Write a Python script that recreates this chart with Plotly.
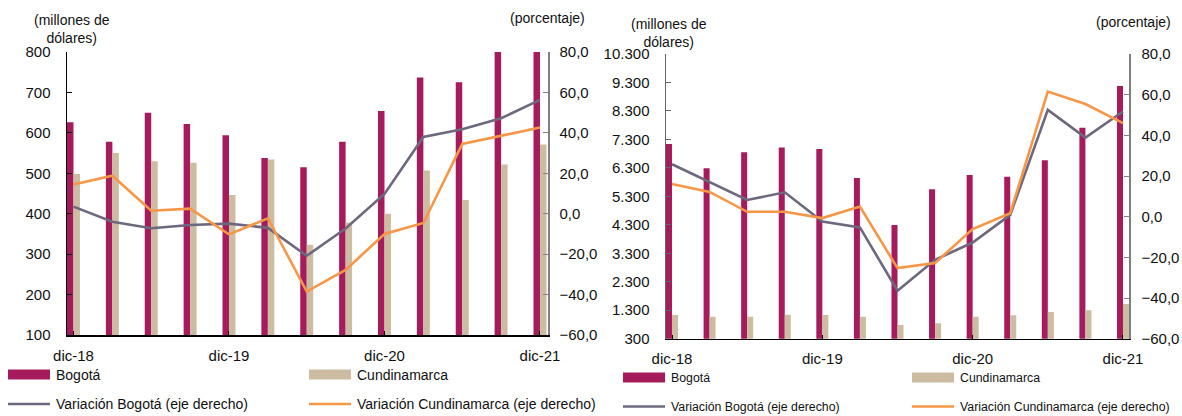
import plotly.graph_objects as go

# ---------------- data ----------------
periods = ["dic-18", "mar-19", "jun-19", "sep-19", "dic-19", "mar-20", "jun-20",
           "sep-20", "dic-20", "mar-21", "jun-21", "sep-21", "dic-21"]
tick_labels = ["dic-18", "dic-19", "dic-20", "dic-21"]

# left panel (millones de dólares / porcentaje)
left_bogota = [626, 578, 650, 622, 594, 538, 515, 578, 654, 737, 725, 851, 1022]
left_cund = [498, 550, 530, 526, 446, 534, 323, 378, 400, 507, 434, 522, 571]
left_var_bogota = [3.5, -4.0, -7.2, -5.6, -4.9, -7.0, -20.8, -7.3, 9.8, 38.0, 41.8, 47.2, 56.3]
left_var_cund = [14.5, 18.8, 1.5, 2.5, -10.2, -2.3, -38.5, -27.8, -10.0, -4.6, 34.5, 38.5, 42.6]

# right panel
right_bogota = [7135, 6290, 6850, 7020, 6960, 5945, 4295, 5550, 6050, 5990, 6565, 7710, 9175]
right_cund = [1130, 1070, 1070, 1140, 1130, 1070, 780, 840, 1070, 1120, 1240, 1300, 1520]
right_var_bogota = [25.8, 16.8, 8.2, 12.0, -2.4, -5.3, -36.4, -21.2, -12.7, 0.9, 52.5, 38.9, 51.7]
right_var_cund = [16.1, 12.2, 2.4, 2.4, -0.7, 5.0, -25.3, -22.8, -6.1, 1.7, 61.5, 55.4, 46.0]

names = ["Bogotá", "Cundinamarca",
         "Variación Bogotá (eje derecho)", "Variación Cundinamarca (eje derecho)"]

# ---------------- style ----------------
W, H = 1182, 416
C_BOG = "#A51B5C"
C_CUN = "#CCBDA2"
C_VB = "#6E687E"
C_VC = "#F79646"
FONT = "Liberation Sans, Arial, sans-serif"
TXT = "#111111"


def px_x(p):
    return p / W


def px_y(p):
    return 1 - p / H


fig = go.Figure()

panels = [
    dict(xa="x", ya="y", ya2="y2", bog=left_bogota, cun=left_cund,
         vb=left_var_bogota, vc=left_var_cund, bw=0.167),
    dict(xa="x2", ya="y3", ya2="y4", bog=right_bogota, cun=right_cund,
         vb=right_var_bogota, vc=right_var_cund, bw=0.16),
]

for p in panels:
    fig.add_trace(go.Bar(x=periods, y=p["bog"], name=names[0], marker_color=C_BOG,
                         marker_line_width=0, width=p["bw"], offset=-p["bw"],
                         xaxis=p["xa"], yaxis=p["ya"]))
    fig.add_trace(go.Bar(x=periods, y=p["cun"], name=names[1], marker_color=C_CUN,
                         marker_line_width=0, width=p["bw"], offset=0,
                         xaxis=p["xa"], yaxis=p["ya"]))
    fig.add_trace(go.Scatter(x=periods, y=p["vb"], name=names[2], mode="lines",
                             line=dict(color=C_VB, width=2.6),
                             xaxis=p["xa"], yaxis=p["ya2"]))
    fig.add_trace(go.Scatter(x=periods, y=p["vc"], name=names[3], mode="lines",
                             line=dict(color=C_VC, width=2.6),
                             xaxis=p["xa"], yaxis=p["ya2"]))

tickfont = dict(family=FONT, size=15, color=TXT)

xcommon = dict(type="category", categoryorder="array", categoryarray=periods,
               tickmode="array", tickvals=tick_labels, ticktext=tick_labels,
               showgrid=False, zeroline=False, showline=True, linecolor="#000000",
               linewidth=1.5, ticks="inside", ticklen=4, tickcolor="#000000",
               tickfont=tickfont, ticklabelstandoff=6, fixedrange=True, automargin=False)

ycommon = dict(showgrid=False, zeroline=False, showline=True, linewidth=1.5,
               ticks="inside", ticklen=5, tickfont=tickfont, ticklabelstandoff=12,
               fixedrange=True, automargin=False)

left_dom_y = [px_y(335), px_y(52)]
right_dom_y = [px_y(338.7), px_y(54)]

fig.update_layout(
    width=W, height=H,
    margin=dict(l=0, r=0, t=0, b=0, autoexpand=False),
    paper_bgcolor="white", plot_bgcolor="white",
    showlegend=False, barmode="overlay", hovermode=False,
    separators=",.",
    font=dict(family=FONT, color=TXT),
    xaxis=dict(xcommon, domain=[px_x(67), px_x(548)], range=[-0.167, 12.206], anchor="y"),
    yaxis=dict(ycommon, domain=left_dom_y, range=[100, 800], dtick=100, tick0=100,
               linecolor="#000000", tickcolor="#000000", anchor="x"),
    yaxis2=dict(ycommon, domain=left_dom_y, range=[-60, 80], dtick=20, tick0=-60,
                tickformat=".1f", overlaying="y", side="right", anchor="x",
                linecolor="#808080", tickcolor="#808080", ticklabelstandoff=7),
    xaxis2=dict(xcommon, domain=[px_x(666), px_x(1129)], range=[-0.16, 12.16], anchor="y3"),
    yaxis3=dict(ycommon, domain=right_dom_y, range=[300, 10300], dtick=1000, tick0=300,
                tickformat=",d", anchor="x2", linecolor="#666666", tickcolor="#666666"),
    yaxis4=dict(ycommon, domain=right_dom_y, range=[-60, 80], dtick=20, tick0=-60,
                tickformat=".1f", overlaying="y3", side="right", anchor="x2",
                linecolor="#808080", tickcolor="#808080", ticklabelstandoff=8),
)

# ---------------- axis titles ----------------
titles = [
    ("(millones de<br>dólares)", 72, 29, "center"),
    ("(porcentaje)", 587, 18, "right"),
    ("(millones de<br>dólares)", 669, 33, "center"),
    ("(porcentaje)", 1173, 22, "right"),
]
for text, x, y, align in titles:
    fig.add_annotation(text=text, x=px_x(x), y=px_y(y), xref="paper", yref="paper",
                       xanchor=align, yanchor="middle", align="center", showarrow=False,
                       font=dict(family=FONT, size=14, color=TXT))

# ---------------- legends (drawn) ----------------
legend_layout = [
    dict(c1=8, c2=309, r1=374.5, r2=404, fs=14),
    dict(c1=623, c2=912, r1=377.5, r2=406.5, fs=12.3),
]
colors = [C_BOG, C_CUN, C_VB, C_VC]
for lg in legend_layout:
    slots = [(lg["c1"], lg["r1"]), (lg["c2"], lg["r1"]), (lg["c1"], lg["r2"]), (lg["c2"], lg["r2"])]
    for i, (sx, sy) in enumerate(slots):
        if i < 2:
            fig.add_shape(type="rect", xref="paper", yref="paper",
                          x0=px_x(sx), x1=px_x(sx + 42), y0=px_y(sy + 5), y1=px_y(sy - 5),
                          fillcolor=colors[i], line_width=0)
        else:
            fig.add_shape(type="line", xref="paper", yref="paper",
                          x0=px_x(sx), x1=px_x(sx + 42), y0=px_y(sy), y1=px_y(sy),
                          line=dict(color=colors[i], width=2.6))
        fig.add_annotation(text=names[i], x=px_x(sx + 46), y=px_y(sy), xref="paper",
                           yref="paper", xanchor="left", yanchor="middle", showarrow=False,
                           font=dict(family=FONT, size=lg["fs"], color=TXT))

# remove the default page margin so the 1182x416 figure fills the window exactly
fig.write_html("out.html",
               config={"displayModeBar": False, "staticPlot": True},
               post_script="document.body.style.margin='0';document.body.style.overflow='hidden';")
